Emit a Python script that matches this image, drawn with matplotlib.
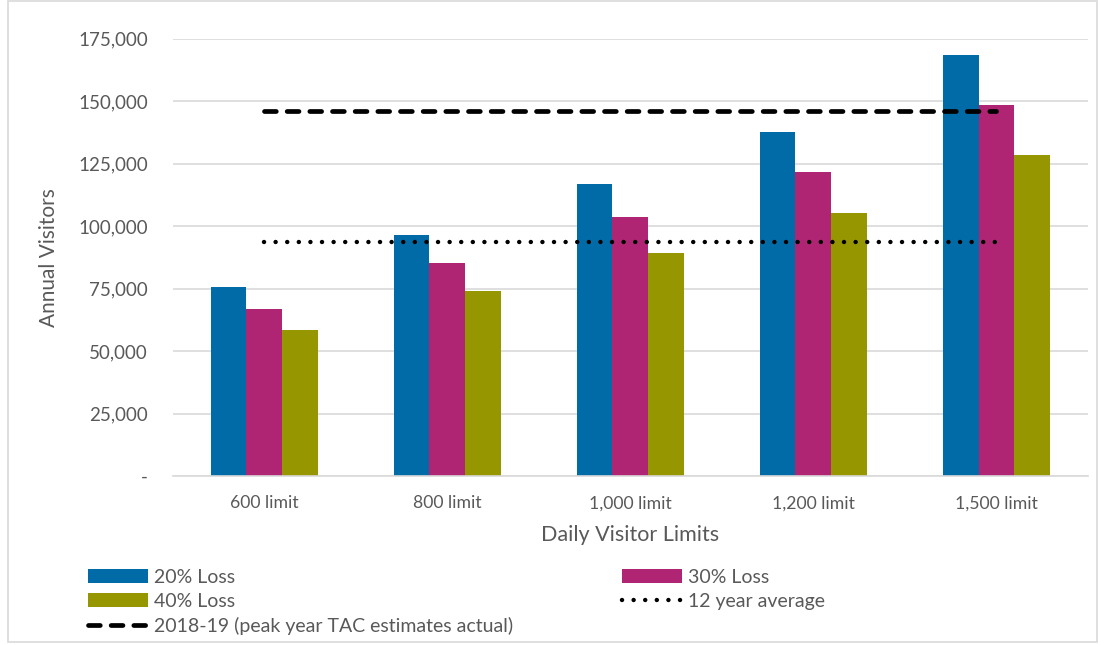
import matplotlib
matplotlib.use('Agg')
import matplotlib.pyplot as plt
from matplotlib.ticker import FuncFormatter
from matplotlib.patches import Rectangle
import numpy as np

plt.rcParams['font.family'] = ['Lato', 'DejaVu Sans']

limits = ["600 limit", "800 limit", "1,000 limit", "1,200 limit", "1,500 limit"]
loss20 = [75500, 96300, 116700, 137800, 168600]
loss30 = [66700, 85100, 103500, 121500, 148600]
loss40 = [58300, 73900, 89100, 105100, 128300]
avg12 = 93500
peak1819 = 146200

gray = '#595959'
blue = '#006BA6'
magenta = '#AF2573'
olive = '#969600'

fig = plt.figure(figsize=(11, 6.45), dpi=100)
ax = fig.add_axes([0.157, 0.262, 0.832, 0.678])

x = np.arange(len(limits))
w = 0.195
b1 = ax.bar(x - w, loss20, w, color=blue, label='20% Loss', zorder=2)
b2 = ax.bar(x, loss30, w, color=magenta, label='30% Loss', zorder=2)
b3 = ax.bar(x + w, loss40, w, color=olive, label='40% Loss', zorder=2)

l_avg, = ax.plot(x, [avg12] * len(x), color='black', lw=3.2,
                 dashes=(0.01, 2.6), dash_capstyle='round', zorder=3,
                 label='12 year average')
l_peak, = ax.plot(x, [peak1819] * len(x), color='black', lw=3.4,
                  dashes=(2.5, 2.3), dash_capstyle='round', zorder=3,
                  label='2018-19 (peak year TAC estimates actual)')

ax.set_xlim(-0.5, len(limits) - 0.5)
ax.set_ylim(0, 175000)
ax.set_yticks(np.arange(0, 175001, 25000))
ax.yaxis.set_major_formatter(FuncFormatter(lambda v, p: '-' if v == 0 else f'{int(v):,}'))
ax.set_xticks(x)
ax.set_xticklabels(limits)
ax.grid(axis='y', color='#D9D9D9', lw=1.2, zorder=0)
ax.set_axisbelow(True)
for s in ['top', 'right', 'left']:
    ax.spines[s].set_visible(False)
ax.spines['bottom'].set_color('#D9D9D9')
ax.spines['bottom'].set_linewidth(1.2)
ax.tick_params(length=0, labelsize=13.5, labelcolor=gray)
ax.tick_params(axis='x', labelsize=12.7, pad=14)
ax.tick_params(axis='y', pad=18)

ax.set_ylabel('Annual Visitors', fontsize=15, color=gray, labelpad=14)
ax.set_xlabel('Daily Visitor Limits', fontsize=15.5, color=gray, labelpad=10)

fig.legend(handles=[b1, b3, l_peak, b2, l_avg], ncol=2,
           loc='upper left', bbox_to_anchor=(0.073, 0.13),
           frameon=False, fontsize=14, handlelength=3.1, handleheight=0.7,
           handletextpad=0.3, columnspacing=5.6, labelspacing=0.35,
           labelcolor=gray, borderaxespad=0)

fig.patches.append(Rectangle((0.007, 0.005), 0.99, 0.993, transform=fig.transFigure,
                             fill=False, edgecolor='#D9D9D9', lw=1.2))

fig.savefig('out.png', dpi=100)
